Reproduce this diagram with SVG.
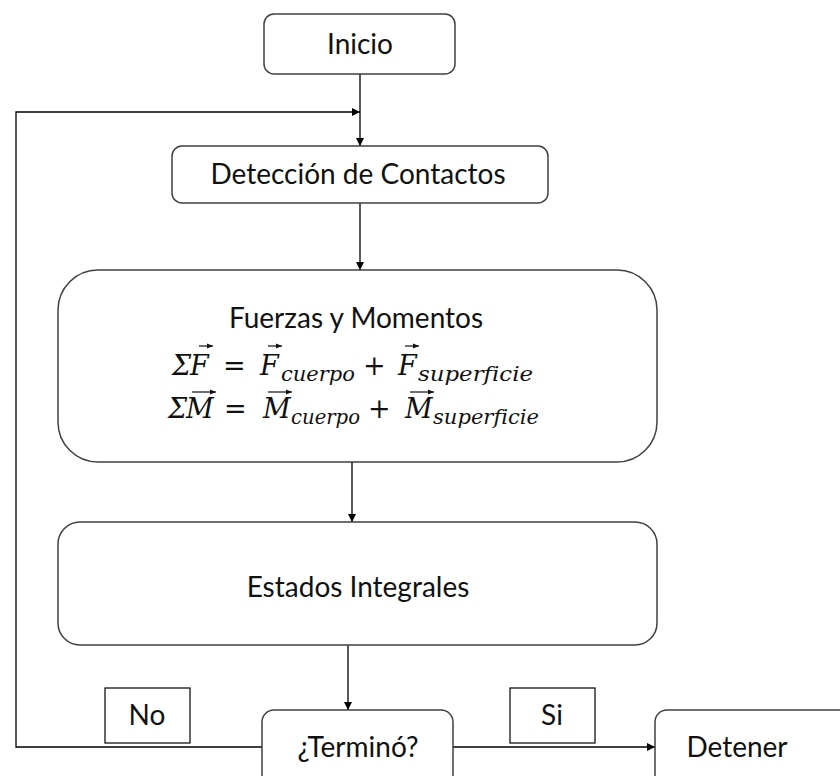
<svg xmlns="http://www.w3.org/2000/svg" width="840" height="776" viewBox="0 0 840 776">
<defs>
<style>
.box{fill:#fff;stroke:#404040;stroke-width:1.5}
.lbl{fill:#fff;stroke:#000;stroke-width:1.2}
.t{font-family:Lato,"Liberation Sans",sans-serif;font-size:28px;fill:#111;text-anchor:middle}
.m{font-family:"DejaVu Serif",serif;font-style:italic;font-size:27px;fill:#111}
.s{font-family:"DejaVu Serif",serif;font-style:italic;font-size:20px;fill:#111;font-variant-ligatures:none}
.n{font-family:"DejaVu Serif",serif;font-size:27px;fill:#111}
.c{fill:none;stroke:#000;stroke-width:1.3}
.v{fill:none;stroke:#111;stroke-width:1.2}
</style>
<marker id="ah" viewBox="0 0 10 10" refX="10" refY="5" markerWidth="8" markerHeight="8" orient="auto" markerUnits="userSpaceOnUse">
<path d="M0,0L10,5L0,10z" fill="#000"/>
</marker>
<marker id="va" viewBox="0 0 10 10" refX="10" refY="5" markerWidth="6" markerHeight="6" orient="auto" markerUnits="userSpaceOnUse">
<path d="M0,1L10,5L0,9z" fill="#111"/>
</marker>
</defs>
<rect width="840" height="776" fill="#fff"/>
<g id="connectors">
<path class="c" d="M360,74V146" marker-end="url(#ah)"/>
<path class="c" d="M262,747H16V112H360" marker-end="url(#ah)"/>
<path class="c" d="M360,203V270" marker-end="url(#ah)"/>
<path class="c" d="M352,462V522" marker-end="url(#ah)"/>
<path class="c" d="M348,645V710" marker-end="url(#ah)"/>
<path class="c" d="M453,747H655" marker-end="url(#ah)"/>
</g>
<g id="inicio">
<rect class="box" x="264" y="14" width="191" height="60" rx="10"/>
<text class="t" x="360" y="54">Inicio</text>
</g>
<g id="deteccion">
<rect class="box" x="172" y="146" width="376" height="57" rx="10"/>
<text class="t" x="358" y="184">Detección de Contactos</text>
</g>
<g id="fuerzas">
<rect class="box" x="58" y="270" width="599" height="192" rx="40"/>
<text class="t" x="356" y="328">Fuerzas y Momentos</text>
<text class="m" x="172" y="375">Σ</text>
<text class="m" x="190" y="375">F</text>
<text class="n" x="223" y="375">=</text>
<text class="m" x="260" y="375">F</text>
<text class="s" x="281" y="381" textLength="74" lengthAdjust="spacingAndGlyphs">cuerpo</text>
<text class="n" x="363" y="375">+</text>
<text class="m" x="398" y="375">F</text>
<text class="s" x="418" y="381" textLength="115" lengthAdjust="spacingAndGlyphs">superficie</text>
<path class="v" d="M199,346H213" marker-end="url(#va)"/>
<path class="v" d="M268,346H282" marker-end="url(#va)"/>
<path class="v" d="M405,346H419" marker-end="url(#va)"/>
<text class="m" x="168" y="418">Σ</text>
<text class="m" x="186" y="418">M</text>
<text class="n" x="224" y="418">=</text>
<text class="m" x="263" y="418">M</text>
<text class="s" x="291" y="424" textLength="69" lengthAdjust="spacingAndGlyphs">cuerpo</text>
<text class="n" x="368" y="418">+</text>
<text class="m" x="405" y="418">M</text>
<text class="s" x="433" y="424" textLength="106" lengthAdjust="spacingAndGlyphs">superficie</text>
<path class="v" d="M192,392H216" marker-end="url(#va)"/>
<path class="v" d="M268,392H292" marker-end="url(#va)"/>
<path class="v" d="M410,392H434" marker-end="url(#va)"/>
</g>
<g id="estados">
<rect class="box" x="58" y="522" width="599" height="123" rx="22"/>
<text class="t" x="358" y="597">Estados Integrales</text>
</g>
<g id="termino">
<rect class="box" x="262" y="710" width="191" height="80" rx="12"/>
<text class="t" x="358" y="757">¿Terminó?</text>
</g>
<g id="detener">
<rect class="box" x="655" y="710" width="200" height="80" rx="12"/>
<text class="t" x="737" y="757">Detener</text>
</g>
<g id="no">
<rect class="lbl" x="105" y="688" width="85" height="55"/>
<text class="t" x="147" y="725">No</text>
</g>
<g id="si">
<rect class="lbl" x="510" y="688" width="85" height="55"/>
<text class="t" x="552" y="725">Si</text>
</g>
</svg>
